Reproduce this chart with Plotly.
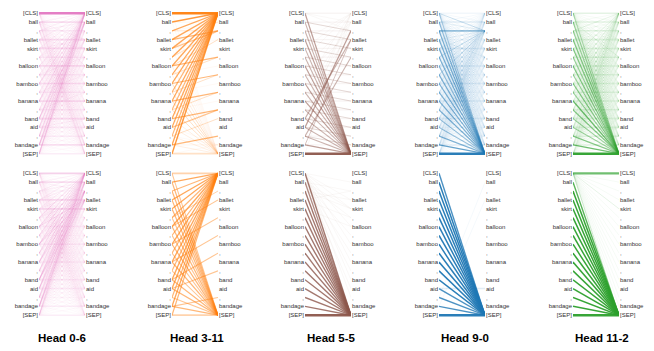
import plotly.graph_objects as go

TOKENS = ["[CLS]", "ball", ",", "ballet", "skirt", ",", "balloon", ",", "bamboo", ",",
          "banana", ",", "band", "aid", ",", "bandage", "[SEP]"]
HEADS = ["Head 0-6", "Head 3-11", "Head 5-5", "Head 9-0", "Head 11-2"]

# attention strength (0-9): row = left token, column = right token
ATT_0_6_TOP = [
    "91111111111111111", "23121121111111122", "22211111111111112", "21132111111111111",
    "21123111111111111", "21211211111111111", "22111131111111111", "21111212111111111",
    "32111111311111111", "21111112121111111", "32121111113111111", "21111111121211111",
    "33121111111131111", "32111111111122111", "32111111111111211", "33122111111111131",
    "43111111111111112"]
ATT_0_6_BOTTOM = [
    "41111111111111111", "23211111111111111", "22111111111111111", "22131111111111111",
    "21213111111111111", "31221111111111111", "32231121111111111", "31221111111111111",
    "32331111211111111", "31221111111111111", "32321111112111111", "31221111111111111",
    "33331111111121111", "32321111111112111", "31221111111111111", "33321111111111121",
    "32221111111111112"]
ATT_3_11_TOP = [
    "90000000000000001", "81000000000000001", "71200000000000001", "71600000000000001",
    "71510000000000001", "70300000000000001", "70030600000000002", "70000310000000002",
    "70000006000000003", "60000003100000003", "70000000060000003", "60000000031000003",
    "70000000000600002", "70000000000500012", "60000000000030012", "70000000000000612",
    "80000000000000013"]
ATT_3_11_BOTTOM = [
    "40000000000000005", "70000000000000006", "60000000000000006", "70000000000000006",
    "70000000000000006", "60400000000000005", "70050000000000006", "60000000000000005",
    "70000500000000006", "60000000000000005", "70000005000000006", "60000000000000005",
    "70000000050000006", "70000000000500006", "60000000000000005", "70000000000000506",
    "60000000000000004"]
ATT_5_5_TOP = [
    "11100000000000006", "01300000000000005", "00130000000000005", "10013000000000006",
    "10001300000000005", "10000130000000005", "01000013000000006", "00100001300000005",
    "10000000130000006", "01000000013000005", "00100000001300006", "10000000000130005",
    "10050000000013005", "01600000000001305", "00000500000000135", "00040000000000016",
    "10000000000000009"]
ATT_5_5_BOTTOM = [
    "01011010101010108", "00101101010101007", "00011000000000008", "00100100000000008",
    "00000010000000008", "00000000000000008", "00000000000000008", "00000000000000008",
    "00000000000000008", "00000000000000008", "00000000000000008", "00000000000000008",
    "00000000000000008", "00000000000000008", "00000000000000008", "00000000000000008",
    "00000000000000009"]
ATT_9_0_TOP = [
    "11311111111111114", "12211111111111115", "11511111111111116", "11211211111111116",
    "11212111111111116", "11311111111111116", "11211121111111115", "11311111111111116",
    "11211111211111116", "11211111111111116", "11111111112111116", "11211111111111116",
    "11111111111121115", "11111111111111115", "11211111111111116", "11111111111111127",
    "11111111111111119"]
ATT_9_0_BOTTOM = [
    "00000000000000008", "00000000000000009", "00000000000000009", "00000000000000009",
    "00000000000000009", "00000000000000009", "00000000000000009", "00000000000000009",
    "00000000000000009", "00000000000000009", "00000000000000009", "00000000000000009",
    "00000000000000009", "00000000000002008", "01000000000000008", "00010000000000008",
    "00000000000000009"]
ATT_11_2_TOP = [
    "21111111111111114", "12111211111111115", "21211111111111115", "11121111111111116",
    "11112111111111116", "21111211111111115", "11111121111111116", "21111112111111115",
    "11111111211111116", "21111111121111115", "11111111112111117", "21111111111211116",
    "11111111111121115", "21111111111112115", "11111111111111216", "21111111111111127",
    "11111111111111119"]
ATT_11_2_BOTTOM = [
    "71112111111111113", "00000000000000008", "00000000000000009", "00000000000000009",
    "00000000000000009", "00000000000000009", "00000000000000009", "00000000000000009",
    "00000000000000009", "00000000000000009", "00000000000000009", "00000000000000009",
    "00000000000000009", "00000000000000009", "00000000000000009", "00000000000000009",
    "00000000000000009"]

TOP_ROW = [ATT_0_6_TOP, ATT_3_11_TOP, ATT_5_5_TOP, ATT_9_0_TOP, ATT_11_2_TOP]
BOTTOM_ROW = [ATT_0_6_BOTTOM, ATT_3_11_BOTTOM, ATT_5_5_BOTTOM, ATT_9_0_BOTTOM, ATT_11_2_BOTTOM]

for m in TOP_ROW + BOTTOM_ROW:
    assert len(m) == 17 and all(len(r) == 17 for r in m), m

# ---------------- style ----------------
COLORS = [(227, 119, 194), (255, 127, 14), (140, 86, 75), (31, 119, 180), (44, 160, 44)]
OPAC = [0, 0.06, 0.13, 0.23, 0.34, 0.45, 0.56, 0.68, 0.8, 0.95]
WIDTH = [0, 0.8, 0.9, 1.0, 1.0, 1.1, 1.2, 1.3, 1.4, 1.5]
SELF_WIDTH_FACTOR = 1.7
W, H = 654, 351
LINE_X0 = [39, 172, 305, 439, 573]
LINE_W = 46
ROW_Y = [(13.3, 153.7), (173.3, 315.2)]
TITLE_X = [62, 197, 331, 465, 602]
LABEL_FONT = dict(family="Liberation Sans, Arial, sans-serif", size=6, color="#333333")

fig = go.Figure()
layout = {}
for c in range(5):
    for r in range(2):
        mat = TOP_ROW[c] if r == 0 else BOTTOM_ROW[c]
        idx = r * 5 + c + 1
        xref = "x" if idx == 1 else f"x{idx}"
        yref = "y" if idx == 1 else f"y{idx}"
        rr, gg, bb = COLORS[c]
        for i, row in enumerate(mat):
            for lvl in range(1, 10):
                for horiz in (False, True):
                    xs, ys = [], []
                    for j, ch in enumerate(row):
                        if int(ch) == lvl and (i == j) == horiz:
                            xs += [0, 1, None]
                            ys += [i, j, None]
                    if xs:
                        w = WIDTH[lvl] * (SELF_WIDTH_FACTOR if horiz else 1.0)
                        fig.add_trace(go.Scatter(
                            x=xs, y=ys, mode="lines", xaxis=xref, yaxis=yref,
                            line=dict(color=f"rgba({rr},{gg},{bb},{OPAC[lvl]})", width=w),
                            hoverinfo="skip", showlegend=False))
        # invisible anchor so the right-hand token axis is drawn
        fig.add_trace(go.Scatter(x=[0.5], y=[8], mode="markers", xaxis=xref,
                                 yaxis=f"y{idx + 10}", marker=dict(opacity=0),
                                 hoverinfo="skip", showlegend=False))
        x0 = LINE_X0[c]
        ytop, ybot = ROW_Y[r]
        step = (ybot - ytop) / 16
        dom_y = [1 - (ybot + step / 2) / H, 1 - (ytop - step / 2) / H]
        xkey = "xaxis" if idx == 1 else f"xaxis{idx}"
        ykey = "yaxis" if idx == 1 else f"yaxis{idx}"
        layout[xkey] = dict(domain=[x0 / W, (x0 + LINE_W) / W], range=[0, 1], visible=False,
                            anchor=yref, fixedrange=True)
        common = dict(range=[16.5, -0.5], tickmode="array", tickvals=list(range(17)),
                      ticktext=TOKENS, showgrid=False, zeroline=False, showline=False,
                      ticks="", tickfont=LABEL_FONT, fixedrange=True)
        layout[ykey] = dict(domain=dom_y, anchor=xref, side="left", **common)
        layout[f"yaxis{idx + 10}"] = dict(overlaying=yref, anchor=xref, side="right", **common)

annotations = []
for c in range(5):
    annotations.append(dict(text=f"<b>{HEADS[c]}</b>", x=TITLE_X[c] / W, y=1 - 338 / H,
                            xref="paper", yref="paper", showarrow=False,
                            xanchor="center", yanchor="middle",
                            font=dict(family="Liberation Sans, Arial, sans-serif", size=11.5,
                                      color="#000000")))

fig.update_layout(width=W, height=H, margin=dict(l=0, r=0, t=0, b=0),
                  paper_bgcolor="white", plot_bgcolor="white",
                  annotations=annotations, **layout)
fig.write_html("out.html", config={"displayModeBar": False},
               post_script="document.body.style.margin='0px';")
